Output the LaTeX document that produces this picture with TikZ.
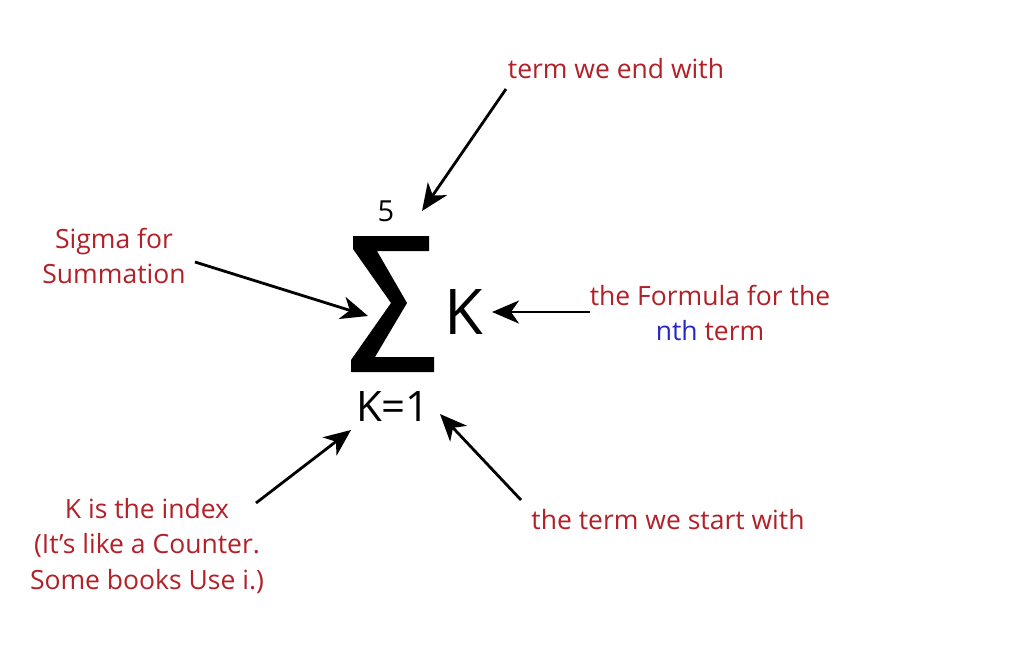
\documentclass[tikz,border=0pt]{standalone}
\usepackage{fontspec}
\setmainfont{Open Sans}
\usetikzlibrary{arrows.meta}
\definecolor{lblred}{RGB}{178,32,40}
\definecolor{lblblue}{RGB}{40,40,200}
\tikzset{
  lbl/.style={text=lblred, font=\fontsize{26.5}{35.5}\selectfont, align=center, inner sep=0pt},
  pointer/.style={line width=2.8pt, -{Stealth[length=27pt,width=23pt,inset=8pt]}, shorten >=0pt},
}
\begin{document}
\begin{tikzpicture}[x=1pt,y=-1pt]
\useasboundingbox[fill=white] (0,0) rectangle (1011,646);
% sigma glyph
\fill (353,236) -- (429,236) -- (429,251) -- (377,251) -- (407,303) -- (375,357) -- (434,357) -- (434,372) -- (351,372) -- (351,360) -- (391,303) -- (353,249) -- cycle;
\node (up) [font=\fontsize{29}{29}\selectfont, inner sep=0pt] at (386,211) {5};
\node (low) [font=\fontsize{42}{42}\selectfont, inner sep=0pt] at (393,406) {K=1};
\node (kk) [font=\fontsize{63}{63}\selectfont, inner sep=0pt] at (464,312) {K};
\coordinate (sig) at (368,316);
\coordinate (tipend) at (422,211);
\coordinate (tipk) at (492,312);
\coordinate (tipidx) at (351,430);
\coordinate (tipstart) at (440,414);
% labels
\node (tend) [lbl] at (616,69) {term we end with};
\node (tsig) [lbl] at (114,256) {Sigma for\\Summation};
\node (tform) [lbl] at (710,313) {the Formula for the\\\textcolor{lblblue}{nth} term};
\node (tidx) [lbl] at (147,546) {K is the index\\(It’s like a Counter.\\Some books Use i.)};
\node (tstart) [lbl] at (668,520) {the term we start with};
% arrow tails
\coordinate (a1) at (506,89);
\coordinate (a2) at (195,262);
\coordinate (a3) at (590,312);
\coordinate (a4) at (256,503);
\coordinate (a5) at (521,500);
\draw[pointer] (a1) -- (tipend);
\draw[pointer] (a2) -- (sig);
\draw[pointer] (a3) -- (tipk);
\draw[pointer] (a4) -- (tipidx);
\draw[pointer] (a5) -- (tipstart);
\end{tikzpicture}
\end{document}
